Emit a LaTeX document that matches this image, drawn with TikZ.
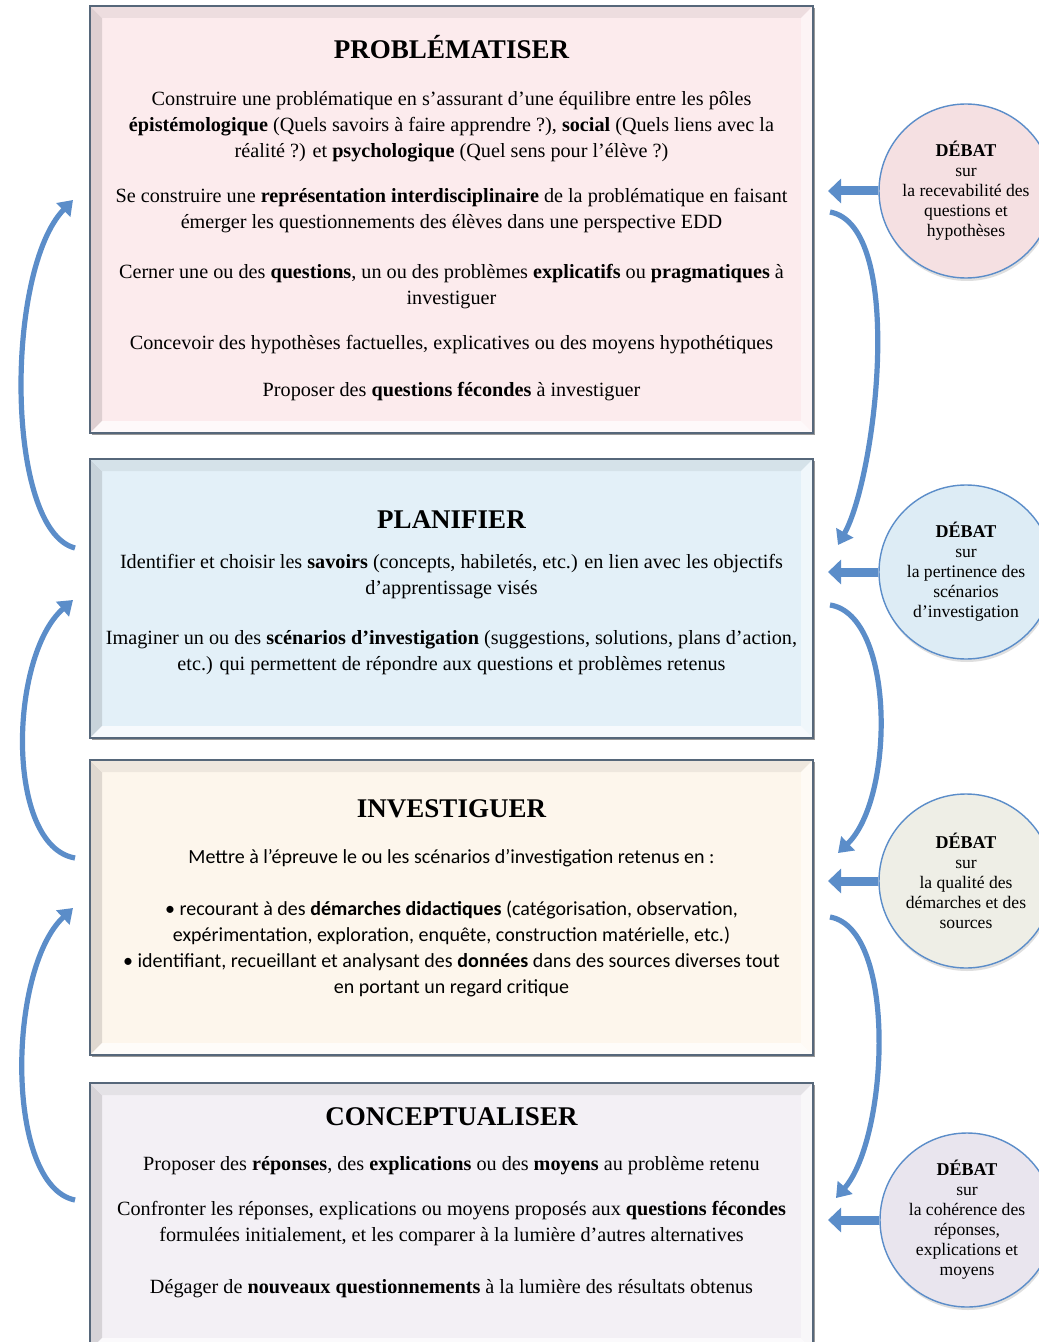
\documentclass[tikz,border=0pt]{standalone}
\usepackage{fontspec}
\setmainfont{Liberation Serif}
\newfontfamily\calibri{Carlito}
\usetikzlibrary{positioning,shadows,arrows.meta}
\definecolor{bordgris}{HTML}{56677A}
\definecolor{bleu}{HTML}{5B8DC9}
\definecolor{rose}{HTML}{FCEBED}
\definecolor{ciel}{HTML}{E3F0F8}
\definecolor{creme}{HTML}{FDF6EC}
\definecolor{lavande}{HTML}{F3F0F5}
\definecolor{crose}{HTML}{F5E0E2}
\definecolor{cbleu}{HTML}{DDECF5}
\definecolor{cgris}{HTML}{EEEEE6}
\definecolor{clav}{HTML}{E9E5EE}

\begin{document}
\begin{tikzpicture}[x=0.5pt,y=-0.5pt]
    \tikzset{
        boite/.style={draw=bordgris, line width=0.8pt, inner sep=0pt, outer sep=0pt, minimum width=361.5pt,
            drop shadow={shadow xshift=1.2pt, shadow yshift=-1.2pt, opacity=0.8}},
        titre/.style={font=\fontsize{13.5}{16}\selectfont\bfseries, text height=9pt, text depth=0pt},
        texte/.style={align=center, font=\fontsize{10.1}{13}\selectfont},
        debat/.style={circle, draw=bleu, line width=0.7pt, minimum size=87pt, inner sep=0pt, align=center,
            font=\fontsize{8.8}{10}\selectfont, drop shadow={shadow xshift=0.5pt, shadow yshift=-1.5pt, opacity=0.25}},
        fleche/.style={draw=bleu, line width=4.5pt, -{Triangle[length=6.5pt,width=12pt]}, shorten >=7.5pt},
        courbe/.style={draw=bleu, line width=2.6pt, -{Triangle[length=7pt,width=9.5pt]}},
    }
    \def\biseau#1#2{%
        \fill[#2!88!black] (#1.north west) -- (#1.south west) -- ([shift={(6pt,6pt)}]#1.south west) -- ([shift={(6pt,-6pt)}]#1.north west) -- cycle;
        \fill[#2!94!black] (#1.north west) -- (#1.north east) -- ([shift={(-6pt,-6pt)}]#1.north east) -- ([shift={(6pt,-6pt)}]#1.north west) -- cycle;
        \fill[#2!55!white] (#1.north east) -- (#1.south east) -- ([shift={(-6pt,6pt)}]#1.south east) -- ([shift={(-6pt,-6pt)}]#1.north east) -- cycle;
        \fill[#2!30!white] (#1.south west) -- (#1.south east) -- ([shift={(-6pt,6pt)}]#1.south east) -- ([shift={(6pt,6pt)}]#1.south west) -- cycle;
        \draw[bordgris, line width=0.8pt] (#1.north west) rectangle (#1.south east);}
    \path[use as bounding box, fill=white] (0,0) rectangle (1038,1342);

    % les quatre etapes
    \node[boite, fill=rose, minimum height=213.5pt] (prob) at (451.5,219.5) {};
    \node[boite, fill=ciel, minimum height=139.5pt] (plan) at (451.5,598.5) {};
    \node[boite, fill=creme, minimum height=147.5pt] (inv) at (451.5,907.5) {};
    \node[boite, fill=lavande, minimum height=133.5pt] (conc) at (451.5,1216.5) {};
    \biseau{prob}{rose}
    \biseau{plan}{ciel}
    \biseau{inv}{creme}
    \biseau{conc}{lavande}

    \node[titre] (tprob) at (451.5,50) {PROBLÉMATISER};
    \node[texte] (xprob) at (451.5,246.5) {Construire une problématique en s’assurant d’une équilibre entre les pôles\\
        \textbf{épistémologique} (Quels savoirs à faire apprendre ?), \textbf{social} (Quels liens avec la\\
        réalité ?) et \textbf{psychologique} (Quel sens pour l’élève ?)\\[9.5pt]
        Se construire une \textbf{représentation interdisciplinaire} de la problématique en faisant\\
        émerger les questionnements des élèves dans une perspective EDD\\[12pt]
        Cerner une ou des \textbf{questions}, un ou des problèmes \textbf{explicatifs} ou \textbf{pragmatiques} à\\
        investiguer\\[9.5pt]
        Concevoir des hypothèses factuelles, explicatives ou des moyens hypothétiques\\[10.5pt]
        Proposer des \textbf{questions fécondes} à investiguer};

    \node[titre] (tplan) at (451.5,519) {PLANIFIER};
    \node[texte] (xplan) at (451.5,615) {Identifier et choisir les \textbf{savoirs} (concepts, habiletés, etc.) en lien avec les objectifs\\
        d’apprentissage visés\\[12pt]
        Imaginer un ou des \textbf{scénarios d’investigation} (suggestions, solutions, plans d’action,\\
        etc.) qui permettent de répondre aux questions et problèmes retenus};

    \node[titre] (tinv) at (451.5,808) {INVESTIGUER};
    \node[texte, font=\calibri\fontsize{10}{13}\selectfont] (xinv) at (451.5,923) {Mettre à l’épreuve le ou les scénarios d’investigation retenus en :\\[13pt]
        • recourant à des \textbf{démarches didactiques} (catégorisation, observation,\\
        expérimentation, exploration, enquête, construction matérielle, etc.)\\
        • identifiant, recueillant et analysant des \textbf{données} dans des sources diverses tout\\
        en portant un regard critique};

    \node[titre] (tconc) at (451.5,1116) {CONCEPTUALISER};
    \node[texte] (xconc) at (451.5,1227.5) {Proposer des \textbf{réponses}, des \textbf{explications} ou des \textbf{moyens} au problème retenu\\[9.5pt]
        Confronter les réponses, explications ou moyens proposés aux \textbf{questions fécondes}\\
        formulées initialement, et les comparer à la lumière d’autres alternatives\\[13pt]
        Dégager de \textbf{nouveaux questionnements} à la lumière des résultats obtenus};

    % les debats
    \node[debat, fill=crose] (d1) at (966,191) {{\fontsize{9}{10}\selectfont\bfseries DÉBAT}\\sur\\la recevabilité des\\questions et\\hypothèses};
    \node[debat, fill=cbleu] (d2) at (966,572) {{\fontsize{9}{10}\selectfont\bfseries DÉBAT}\\sur\\la pertinence des\\scénarios\\d’investigation};
    \node[debat, fill=cgris] (d3) at (966,881) {{\fontsize{9}{10}\selectfont\bfseries DÉBAT}\\sur\\la qualité des\\démarches et des\\sources};
    \node[debat, fill=clav] (d4) at (967,1220) {{\fontsize{9}{10}\selectfont\bfseries DÉBAT}\\sur\\la cohérence des\\réponses,\\explications et\\moyens};

    \draw[fleche] (d1.west) -- (d1.west -| prob.east);
    \draw[fleche] (d2.west) -- (d2.west -| plan.east);
    \draw[fleche] (d3.west) -- (d3.west -| inv.east);
    \draw[fleche] (d4.west) -- (d4.west -| conc.east);

    % fleches courbes a droite
    \draw[courbe] ([xshift=8.5pt,yshift=3.75pt]prob.east) .. controls +(38pt,-7pt) and +(19pt,34pt) .. ([xshift=12.5pt,yshift=26.75pt]plan.east);
    \draw[courbe] ([xshift=8.5pt,yshift=-3.25pt]plan.east) .. controls +(32.5pt,-5pt) and +(28.5pt,27.5pt) .. ([xshift=12.5pt,yshift=27.25pt]inv.east);
    \draw[courbe] ([xshift=8.5pt,yshift=-4.75pt]inv.east) .. controls +(34pt,-6pt) and +(26pt,30pt) .. ([xshift=11.5pt,yshift=9.25pt]conc.east);
    % fleches courbes a gauche
    \draw[courbe] ([xshift=-7.5pt,yshift=25.25pt]plan.west) .. controls +(-35pt,9pt) and +(-34pt,-35pt) .. ([xshift=-8.5pt,yshift=9.75pt]prob.west);
    \draw[courbe] ([xshift=-7.5pt,yshift=24.75pt]inv.west) .. controls +(-35pt,6pt) and +(-32pt,-28pt) .. ([xshift=-8.5pt,yshift=-0.75pt]plan.west);
    \draw[courbe] ([xshift=-7.5pt,yshift=8.25pt]conc.west) .. controls +(-35pt,7pt) and +(-33pt,-31pt) .. ([xshift=-8.5pt,yshift=-0.25pt]inv.west);
\end{tikzpicture}
\end{document}
